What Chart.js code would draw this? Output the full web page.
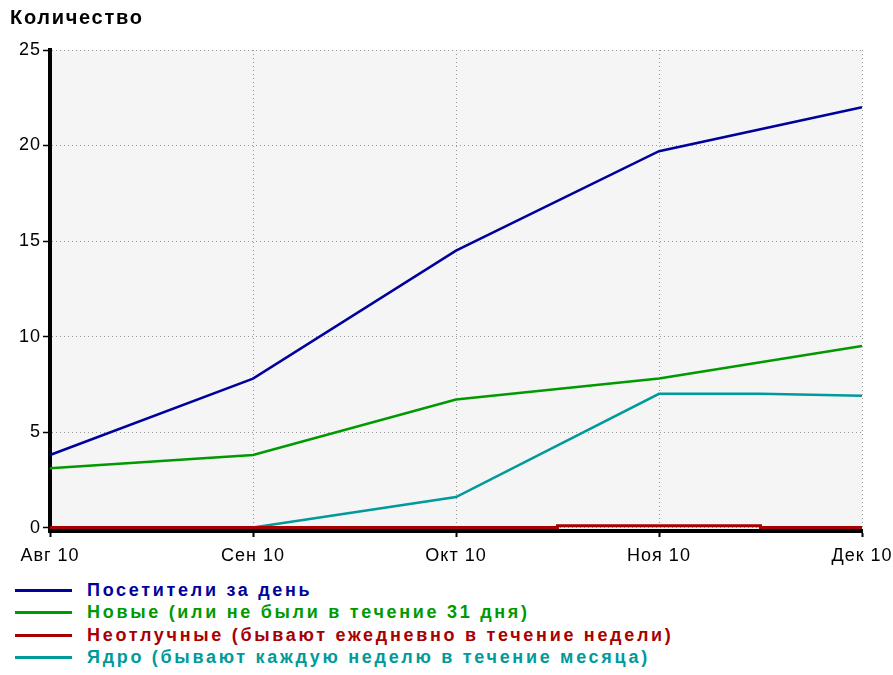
<!DOCTYPE html>
<html lang="ru">
<head>
    <meta charset="UTF-8">
    <title>Количество</title>
    <script src="https://cdn.jsdelivr.net/npm/chart.js"></script>
    <style>
        body {
            margin: 0;
            background: #fff;
            font-family: "Liberation Sans", Arial, sans-serif;
        }
        .wrap {
            position: relative;
            width: 893px;
            height: 675px;
        }
        .title {
            position: absolute;
            left: 10px;
            top: 6px;
            font-size: 20px;
            font-weight: bold;
            letter-spacing: 1.7px;
            color: #000;
        }
        .chart-box {
            position: absolute;
            left: 0;
            top: 0;
            width: 893px;
            height: 575px;
        }
        #legend {
            position: absolute;
            left: 15px;
            top: 579px;
        }
        .item {
            height: 22.5px;
            display: flex;
            align-items: center;
            font-size: 18px;
            font-weight: bold;
            letter-spacing: 2.7px;
        }
        .item .swatch {
            width: 57px;
            height: 3px;
            margin-right: 15px;
        }
    </style>
</head>
<body>
    <div class="wrap">
        <div class="chart-box">
            <canvas id="myChart"></canvas>
        </div>
        <div class="title">Количество</div>
        <div id="legend"></div>
    </div>

    <script>
        // Позиции точек в месяцах от Авг 10
        const positions = [0, 1, 2, 2.5, 3, 3.5, 4];
        const monthLabels = ['Авг 10', 'Сен 10', 'Окт 10', 'Ноя 10', 'Дек 10'];
        const yTicks = [0, 5, 10, 15, 20, 25];

        const visitors = [3.8, 7.8, 14.5, null, 19.7, null, 22.0];
        const newOnes = [3.1, 3.8, 6.7, null, 7.8, null, 9.5];
        const regulars = [0, 0, 0, 0.1, 0.1, 0, 0];
        const core = [null, 0, 1.6, null, 7.0, 7.0, 6.9];

        const seriesNames = [
            'Посетители за день',
            'Новые (или не были в течение 31 дня)',
            'Неотлучные (бывают ежедневно в течение недели)',
            'Ядро (бывают каждую неделю в течение месяца)'
        ];
        const seriesColors = ['#00009c', '#009a00', '#a80000', '#009a9a'];

        function toPoints(values) {
            return positions.map((x, i) => ({ x: x, y: values[i] }));
        }

        // серый фон области построения + разрядка шрифта подписей
        const plotBackground = {
            id: 'plotBackground',
            beforeUpdate(chart) {
                chart.ctx.letterSpacing = '1px';
            },
            beforeDraw(chart) {
                const { ctx, chartArea } = chart;
                ctx.letterSpacing = '1px';
                ctx.save();
                ctx.fillStyle = '#f5f5f5';
                ctx.fillRect(chartArea.left, chartArea.top,
                    chartArea.right - chartArea.left, chartArea.bottom - chartArea.top);
                ctx.restore();
            }
        };

        const allValues = [visitors, newOnes, regulars, core];

        const datasets = allValues.map((values, i) => ({
            label: seriesNames[i],
            data: toPoints(values),
            borderColor: seriesColors[i],
            backgroundColor: seriesColors[i],
            borderWidth: i === 2 ? 3 : 2.5,
            pointRadius: 0,
            tension: 0,
            spanGaps: true,
            stepped: i === 2,
            clip: 4
        }));

        const tickFont = { family: '"Liberation Sans", Arial, sans-serif', size: 18 };

        const ctx = document.getElementById('myChart').getContext('2d');
        new Chart(ctx, {
            type: 'line',
            data: { datasets: datasets },
            plugins: [plotBackground],
            options: {
                responsive: true,
                maintainAspectRatio: false,
                animation: false,
                layout: {
                    padding: { left: 0, right: 31, top: 50, bottom: 0 }
                },
                scales: {
                    x: {
                        type: 'linear',
                        min: 0,
                        max: 4,
                        afterBuildTicks(scale) {
                            scale.ticks = monthLabels.map((_, i) => ({ value: i }));
                        },
                        afterFit(scale) {
                            scale.height = 44;
                            scale.paddingRight = 0;
                        },
                        border: { color: '#000', width: 4, dash: [1, 3] },
                        grid: {
                            color: '#999',
                            lineWidth: 1,
                            tickColor: '#000',
                            tickWidth: 2,
                            tickLength: 6,
                            tickBorderDash: []
                        },
                        ticks: {
                            color: '#000',
                            padding: 8,
                            maxRotation: 0,
                            font: tickFont,
                            callback: v => monthLabels[v]
                        }
                    },
                    y: {
                        min: -0.18,
                        max: 25,
                        afterBuildTicks(scale) {
                            scale.ticks = yTicks.map(v => ({ value: v }));
                        },
                        afterFit(scale) { scale.width = 50; },
                        border: { color: '#000', width: 4, dash: [1, 3] },
                        grid: {
                            color: '#999',
                            lineWidth: 1,
                            tickColor: '#000',
                            tickWidth: 1.5,
                            tickLength: 7,
                            tickBorderDash: []
                        },
                        ticks: {
                            color: '#000',
                            padding: 2,
                            font: tickFont
                        }
                    }
                },
                plugins: {
                    legend: { display: false },
                    tooltip: { enabled: false }
                }
            }
        });

        // Легенда списком под графиком
        const legend = document.getElementById('legend');
        seriesNames.forEach((name, i) => {
            const row = document.createElement('div');
            row.className = 'item';
            row.style.color = seriesColors[i];
            const swatch = document.createElement('span');
            swatch.className = 'swatch';
            swatch.style.background = seriesColors[i];
            row.appendChild(swatch);
            row.appendChild(document.createTextNode(name));
            legend.appendChild(row);
        });
    </script>
</body>
</html>
